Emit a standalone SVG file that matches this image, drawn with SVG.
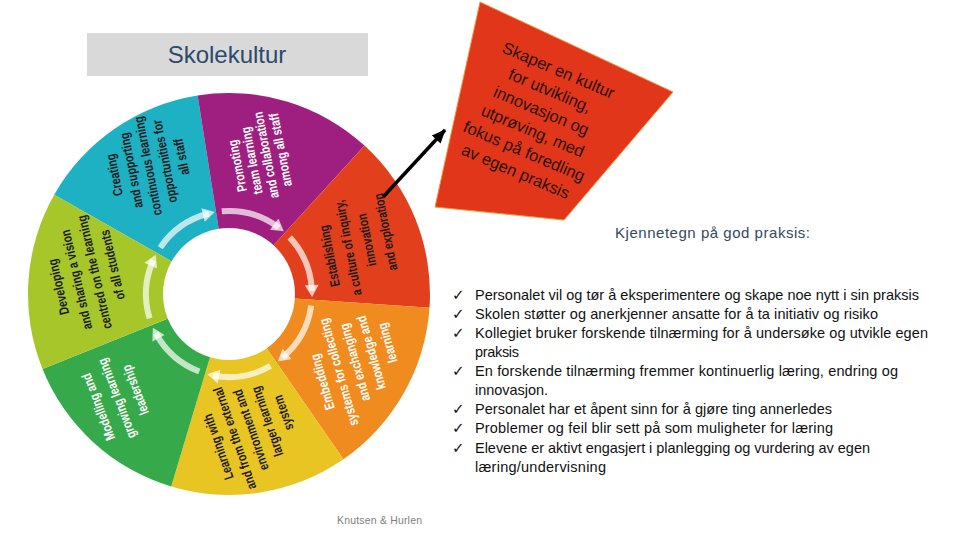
<svg xmlns="http://www.w3.org/2000/svg" width="960" height="540" viewBox="0 0 960 540">
<defs>
<style>
.wt{font-family:"Liberation Sans",Arial,sans-serif;font-weight:bold;font-size:13.5px;text-anchor:middle}
.dk{fill:#1b1b1b}
.wh{fill:#ffffff}
.ring{fill:none;stroke:#ffffff;stroke-opacity:0.7;stroke-width:6}
.li{font-family:"Liberation Sans",Arial,sans-serif;font-size:14.5px;fill:#111111}
.ck{font-family:"DejaVu Sans",sans-serif;font-size:15px;font-weight:bold;fill:#111111}
.bx{font-family:"Liberation Sans",Arial,sans-serif;font-size:16.5px;fill:#2a0f08;text-anchor:middle}
</style>
<marker id="ah" markerUnits="userSpaceOnUse" markerWidth="14" markerHeight="14" viewBox="0 0 14 14" refX="7" refY="7" orient="auto">
<path d="M1,0 L13,7 L1,14 Z" fill="#ffffff" fill-opacity="0.7"/>
</marker>
<marker id="bk" markerUnits="userSpaceOnUse" markerWidth="14" markerHeight="14" viewBox="0 0 14 14" refX="13" refY="7" orient="auto">
<path d="M0,1 L14,7 L0,13 Z" fill="#000000"/>
</marker>
</defs>
<rect x="0" y="0" width="960" height="540" fill="#ffffff"/>

<g id="title">
<rect x="87" y="33" width="281" height="43" fill="#d9d9d9"/>
<text x="227" y="63" font-family="Liberation Sans, Arial, sans-serif" font-size="24" fill="#2c4a6b" text-anchor="middle">Skolekultur</text>
</g>

<g id="seg-teal">
<path d="M229,294 L54.2,194.7 A201,201 0 0 1 197.6,95.5 Z" fill="#1eb1c3"/>
</g>
<g id="seg-purple">
<path d="M229,294 L197.6,95.5 A201,201 0 0 1 364.5,145.6 Z" fill="#9e1f7f"/>
</g>
<g id="seg-red">
<path d="M229,294 L364.5,145.6 A201,201 0 0 1 429.5,307.7 Z" fill="#e2401c"/>
</g>
<g id="seg-orange">
<path d="M229,294 L429.5,307.7 A201,201 0 0 1 343.4,459.2 Z" fill="#f08c1f"/>
</g>
<g id="seg-yellow">
<path d="M229,294 L343.4,459.2 A201,201 0 0 1 171.2,486.5 Z" fill="#e9c524"/>
</g>
<g id="seg-green">
<path d="M229,294 L171.2,486.5 A201,201 0 0 1 42.5,369 Z" fill="#36aa4b"/>
</g>
<g id="seg-lime">
<path d="M229,294 L42.5,369 A201,201 0 0 1 54.2,194.7 Z" fill="#a7c62a"/>
</g>
<circle cx="229" cy="294" r="66" fill="#ffffff"/>

<g id="ring">
<path class="ring" marker-end="url(#ah)" d="M160.2,247.6 A83,83 0 0 1 208.9,213.5"/>
<path class="ring" marker-end="url(#ah)" d="M221.8,211.3 A83,83 0 0 1 279,227.7"/>
<path class="ring" marker-end="url(#ah)" d="M289.7,237.4 A83,83 0 0 1 311.9,291.1"/>
<path class="ring" marker-end="url(#ah)" d="M311.2,305.6 A83,83 0 0 1 282.4,357.6"/>
<path class="ring" marker-end="url(#ah)" d="M270.5,365.9 A83,83 0 0 1 213.2,375.5"/>
<path class="ring" marker-end="url(#ah)" d="M199.3,371.5 A83,83 0 0 1 155.7,333"/>
<path class="ring" marker-end="url(#ah)" d="M149.6,318.3 A83,83 0 0 1 153.2,260.2"/>
</g>

<g id="txt-teal" class="wt dk">
<text transform="translate(114,175) rotate(-101) scale(0.78,1)" y="5">Creating</text>
<text transform="translate(130.8,170.5) rotate(-101) scale(0.78,1)" y="5">and supporting</text>
<text transform="translate(147.5,166) rotate(-101) scale(0.78,1)" y="5">continuous learning</text>
<text transform="translate(164.3,161.5) rotate(-101) scale(0.78,1)" y="5">opportunities for</text>
<text transform="translate(181,157) rotate(-101) scale(0.78,1)" y="5">all staff</text>
</g>
<g id="txt-purple" class="wt wh">
<text transform="translate(237,166) rotate(-101) scale(0.78,1)" y="5">Promoting</text>
<text transform="translate(251.3,160.7) rotate(-101) scale(0.78,1)" y="5">team learning</text>
<text transform="translate(265.7,155.3) rotate(-101) scale(0.78,1)" y="5">and collaboration</text>
<text transform="translate(280,150) rotate(-101) scale(0.78,1)" y="5">among all staff</text>
</g>
<g id="txt-red" class="wt dk">
<text transform="translate(329,256) rotate(-101) scale(0.78,1)" y="5">Establishing</text>
<text transform="translate(347.7,248) rotate(-101) scale(0.78,1)" y="5">a culture of inquiry,</text>
<text transform="translate(366.3,240) rotate(-101) scale(0.78,1)" y="5">innovation</text>
<text transform="translate(385,232) rotate(-101) scale(0.78,1)" y="5">and exploration</text>
</g>
<g id="txt-orange" class="wt wh">
<text transform="translate(322,382) rotate(-106) scale(0.78,1)" y="5">Embedding</text>
<text transform="translate(338.3,372.3) rotate(-106) scale(0.78,1)" y="5">systems for collecting</text>
<text transform="translate(354.5,362.5) rotate(-106) scale(0.78,1)" y="5">and exchanging</text>
<text transform="translate(370.8,352.8) rotate(-106) scale(0.78,1)" y="5">knowledge and</text>
<text transform="translate(387,343) rotate(-106) scale(0.78,1)" y="5">learning</text>
</g>
<g id="txt-yellow" class="wt dk">
<text transform="translate(218,447) rotate(-109) scale(0.78,1)" y="5">Learning with</text>
<text transform="translate(234.3,438.5) rotate(-109) scale(0.78,1)" y="5">and from the external</text>
<text transform="translate(250.5,430) rotate(-109) scale(0.78,1)" y="5">environment and</text>
<text transform="translate(266.8,421.5) rotate(-109) scale(0.78,1)" y="5">larger learning</text>
<text transform="translate(283,413) rotate(-109) scale(0.78,1)" y="5">system</text>
</g>
<g id="txt-green" class="wt wh">
<text transform="translate(98,407) rotate(-111) scale(0.78,1)" y="5">Modelling and</text>
<text transform="translate(116.5,398.5) rotate(-111) scale(0.78,1)" y="5">growing learning</text>
<text transform="translate(135,390) rotate(-111) scale(0.78,1)" y="5">leadership</text>
</g>
<g id="txt-lime" class="wt dk">
<text transform="translate(58,287) rotate(-103) scale(0.78,1)" y="5">Developing</text>
<text transform="translate(76,279.7) rotate(-103) scale(0.78,1)" y="5">and sharing a vision</text>
<text transform="translate(94,272.3) rotate(-103) scale(0.78,1)" y="5">centred on the learning</text>
<text transform="translate(112,265) rotate(-103) scale(0.78,1)" y="5">of all students</text>
</g>

<g id="callout">
<polygon points="480,2 673,92 564,220 435,207" fill="#e2361a" stroke="#f0923a" stroke-width="1"/>
<g transform="translate(537,121) rotate(23)" class="bx">
<text y="-49.5">Skaper en kultur</text>
<text y="-27.5">for utvikling,</text>
<text y="-5.5">innovasjon og</text>
<text y="16.5">utprøving, med</text>
<text y="38.5">fokus på foredling</text>
<text y="60.5">av egen praksis</text>
</g>
</g>

<g id="connectors">
<line x1="383" y1="197" x2="445" y2="130" stroke="#000000" stroke-width="3.5" marker-end="url(#bk)"/>
</g>

<g id="practice">
<text x="615" y="238" font-family="Liberation Sans, Arial, sans-serif" font-size="15" fill="#34495e" textLength="195" lengthAdjust="spacing">Kjennetegn på god praksis:</text>
<text class="ck" x="452" y="299.5">✓</text>
<text class="ck" x="452" y="318.5">✓</text>
<text class="ck" x="452" y="337.5">✓</text>
<text class="ck" x="452" y="376">✓</text>
<text class="ck" x="452" y="414.3">✓</text>
<text class="ck" x="452" y="433.3">✓</text>
<text class="ck" x="452" y="453">✓</text>
<text class="li" x="475" y="299.5" textLength="444" lengthAdjust="spacing">Personalet vil og tør å eksperimentere og skape noe nytt i sin praksis</text>
<text class="li" x="475" y="318.5" textLength="403" lengthAdjust="spacing">Skolen støtter og anerkjenner ansatte for å ta initiativ og risiko</text>
<text class="li" x="475" y="337.5" textLength="453" lengthAdjust="spacing">Kollegiet bruker forskende tilnærming for å undersøke og utvikle egen</text>
<text class="li" x="475" y="356.7" textLength="44" lengthAdjust="spacing">praksis</text>
<text class="li" x="475" y="376" textLength="423" lengthAdjust="spacing">En forskende tilnærming fremmer kontinuerlig læring, endring og</text>
<text class="li" x="475" y="395" textLength="73" lengthAdjust="spacing">innovasjon.</text>
<text class="li" x="475" y="414.3" textLength="357" lengthAdjust="spacing">Personalet har et åpent sinn for å gjøre ting annerledes</text>
<text class="li" x="475" y="433.3" textLength="358" lengthAdjust="spacing">Problemer og feil blir sett på som muligheter for læring</text>
<text class="li" x="475" y="453" textLength="395" lengthAdjust="spacing">Elevene er aktivt engasjert i planlegging og vurdering av egen</text>
<text class="li" x="475" y="472" textLength="131" lengthAdjust="spacing">læring/undervisning</text>
</g>

<g id="credit">
<text x="337" y="524" font-family="Liberation Sans, Arial, sans-serif" font-size="10.5" fill="#808080" textLength="85" lengthAdjust="spacing">Knutsen &amp; Hurlen</text>
</g>
</svg>
